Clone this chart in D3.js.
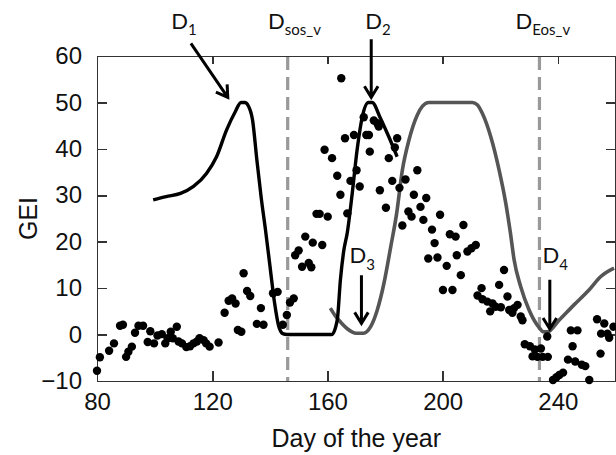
<!doctype html>
<html lang="en">
<head>
<meta charset="UTF-8">
<title>GEI - Day of the year</title>
<style>
    body { margin: 0; background: #fff; }
    .axis path, .axis line { stroke: #333; stroke-width: 1.6; shape-rendering: crispEdges; }
    .axis text { font: 24px "Liberation Sans", Arial, sans-serif; fill: #111; }
    .title { font: 25px "Liberation Sans", Arial, sans-serif; fill: #111; }
    .lab { font: 22px Lato, "Open Sans", sans-serif; fill: #111; }
</style>
</head>
<body>
<svg class="chart"></svg>
<script src="https://cdn.jsdelivr.net/npm/d3@7"></script>
<script>
// observed GEI points
var obsDay = [80, 81, 84.2, 85.9, 88, 89, 90.1, 90.9, 92.1, 93.2, 94.4, 96, 97.6, 98.5, 99.8, 101, 102.5, 103.7, 104.5, 105.6,
    106.3, 107.7, 108.3, 109.5, 111, 112.3, 113.5, 114.7, 115.6, 117, 117.9, 119.1, 122.2, 124.3, 125.7, 126.9, 128.1, 128.9, 130.1, 130.9,
    132.1, 133.2, 135.5, 136.9, 137.8, 141.1, 142.7, 144.5, 145.9, 147, 148.3, 148.8, 150, 151.2, 152.3, 153.5, 154.4, 154.9, 156.2, 157.3,
    158.2, 159, 160.1, 161.6, 163.4, 164.5, 164.8, 166.1, 166.9, 168, 169.2, 170.1, 171.2, 172.6, 173.5, 174.4, 174.7, 176.1, 177.3, 177.8,
    178.2, 180.3, 181.3, 182.5, 183.4, 184.2, 185, 186, 187.1, 188.1, 189.2, 190, 191.2, 192.3, 193.3, 194.3, 195, 196.3, 197.2, 198.2,
    199.1, 200.1, 201.4, 202.5, 203.4, 204.5, 204.9, 206.3, 207.2, 208.6, 210, 211.5, 212.1, 213.5, 213.8, 215.5, 216.5, 217.3, 218.4, 219.6,
    220.2, 221.3, 222.5, 223.1, 224.2, 224.8, 226, 227.1, 227.7, 228.5, 230.3, 231.2, 232, 232.9, 234.1, 234.7, 236.3, 236.5, 238.3, 239.5,
    240.5, 241.8, 243.5, 244.5, 245.1, 246, 246.8, 248.3, 249.5, 250.9, 253.6, 254.8, 255, 256.1, 257.2, 257.8, 259.3];
var obsGEI = [-7.8, -4.9, -3.5, -1.9, 1.9, 2.1, -4.8, -3.7, -2.6, 0.4, 1.9, 1.9, -1.6, 0.7, -1.9, -0.2, 0.1, -1.9, -0.8, 0.6,
    -0.8, 1.7, -1.5, -1.9, -2.7, -2.5, -1.9, -1.5, -0.8, -1.2, -1.9, -2.6, -1.7, 4.7, 7.3, 7.8, 6.7, 1, 0.6, 13.2,
    9.4, 8.3, 2.3, 5.7, 2.1, 8.9, 9.2, 2.1, 4.2, 6.9, 7.8, 17.1, 18.1, 14.6, 21.1, 15.4, 14.5, 19.8, 26, 26,
    19.3, 39.8, 25.4, 38, 34.2, 30.1, 55.2, 42.3, 26.1, 33.1, 43, 35.4, 31.9, 46.8, 43, 43, 39.4, 46.1, 45.5, 44.8,
    31.1, 27.3, 38, 33.1, 40.3, 42.3, 31.6, 23.5, 33.4, 26.5, 25.4, 30.1, 35.4, 27.5, 24.7, 29.4, 16.4, 22.6, 19.7, 16.6,
    25.8, 9.6, 14.8, 21.6, 9.6, 21.1, 17.1, 12.8, 23.6, 17.9, 18.6, 19.3, 8.4, 10, 7.6, 7.1, 5, 6.7, 6, 10.7,
    5.9, 13.9, 8.2, 5.3, 4.7, 5.7, 6.4, 3.9, 3.1, -2.1, -2.5, -4.7, -3.2, -4.8, -3, -4.8, -0.4, -4.8, -9.8, -9.2,
    -8.7, -8.2, -5.4, 0.9, -2.5, -5.8, 0.9, -6.5, -6.8, -9.8, 3.3, -4.1, 0.2, 2.4, 0.2, -0.7, 1.7];

// fitted curve (black)
var fitDay = [99.5, 104, 109, 113.5, 118, 121.5, 125, 128, 130, 131.3, 132.5, 134, 135.5, 137, 138.5, 140, 141.6, 143, 144.5, 146,
    161.5, 163.4, 164.5, 165.7, 166.9, 168.6, 170.3, 172.1, 174.2, 175.5, 178.4, 181.3, 184.2];
var fitGEI = [29, 29.7, 30.4, 31.9, 34.7, 38.3, 44.1, 48, 50, 50, 49.3, 46.2, 37.6, 29.5, 22.5, 15, 7, 2, 0.2, 0,
    0, 3.1, 11.8, 18.2, 22, 30.4, 39.8, 46.9, 50, 50, 46.6, 42.6, 38.3];

// fitted curve (gray)
var fit2Day = [161, 163, 165, 167, 168.5, 170, 172.5, 175, 177.3, 179.6, 182, 184, 186, 188.3, 191.2, 193, 195.2, 210.3, 212, 213.8,
    216.7, 219.6, 221.9, 223.5, 224.8, 227.1, 230, 233.5, 235, 236.4, 240.4, 245.6, 250.8, 254.9, 259.5];
var fit2GEI = [5.7, 3.8, 2.4, 1.2, 0.6, 0.3, 0.3, 1.7, 5.3, 11, 19, 26, 35.4, 41.9, 47.3, 49.2, 50, 50, 49.5, 47.6,
    42.6, 35.4, 28.3, 22, 16.1, 10.3, 5.3, 1.5, 0.6, 0.6, 3.1, 6.4, 9.6, 12.5, 14.3];

var xTicks = [80, 120, 160, 200, 240];
var yTicks = [-10, 0, 10, 20, 30, 40, 50, 60];

// vertical dashed markers
var vDays = [146.2, 233.6];

// annotations: label text, subscript, label pos, arrow from/to
var annName = ["D", "D", "D", "D", "D", "D"];
var annSub = ["1", "sos_v", "2", "Eos_v", "3", "4"];
var annDay = [105.8, 139.4, 173.1, 225.3, 167.7, 234.7];
var annGEI = [65.9, 65.9, 65.9, 65.9, 15.4, 15.4];
var arrFrom = [[112.6, 62.7], [175.2, 63.6], [171.8, 12.8], [237.2, 11.8]];
var arrTo = [[125.4, 51.1], [175.2, 51.1], [171.8, 2.4], [237.2, 1.2]];

var totalWidth = 616, totalHeight = 455;

var x = d3.scaleLinear().domain([80, 260]).range([97, 615.5]);
var y = d3.scaleLinear().domain([-10, 60]).range([381, 56]);

var svg = d3.select(".chart")
    .attr("width", totalWidth)
    .attr("height", totalHeight);

// frame / axes
svg.append("g").attr("class", "axis")
    .attr("transform", "translate(0," + y(-10) + ")")
    .call(d3.axisBottom(x).tickValues(xTicks).tickSizeInner(-10).tickSizeOuter(0).tickPadding(12))
    .selectAll("text").attr("fill", "#111");
svg.append("g").attr("class", "axis")
    .attr("transform", "translate(0," + y(60) + ")")
    .call(d3.axisTop(x).tickValues(xTicks.slice(1)).tickSizeInner(-8).tickSizeOuter(0).tickFormat(""));
svg.append("g").attr("class", "axis")
    .attr("transform", "translate(" + x(80) + ",0)")
    .call(d3.axisLeft(y).tickValues(yTicks).tickSizeInner(-10).tickSizeOuter(0).tickPadding(15));
svg.append("g").attr("class", "axis")
    .attr("transform", "translate(" + x(260) + ",0)")
    .call(d3.axisRight(y).tickValues(yTicks).tickSizeInner(-10).tickSizeOuter(0).tickFormat(""));

svg.selectAll(".axis text").attr("fill", "#111");

// axis titles
svg.append("text").attr("class", "title")
    .attr("x", (x(80) + x(260)) / 2).attr("y", 447)
    .attr("text-anchor", "middle")
    .text("Day of the year");
svg.append("text").attr("class", "title")
    .attr("transform", "translate(37," + y(25) + ") rotate(-90)")
    .attr("text-anchor", "middle")
    .text("GEI");

// dashed verticals
svg.selectAll(".vline").data(vDays).enter()
    .append("line").attr("class", "vline")
    .attr("x1", function(d) { return x(d); }).attr("x2", function(d) { return x(d); })
    .attr("y1", y(60) + 1).attr("y2", y(-10))
    .attr("stroke", "#999").attr("stroke-width", 3.2)
    .attr("stroke-dasharray", "13,7");

var line = d3.line()
    .x(function(d) { return x(d[0]); })
    .y(function(d) { return y(d[1]); })
    .curve(d3.curveMonotoneX);

svg.append("path")
    .datum(d3.zip(fit2Day, fit2GEI))
    .attr("d", line)
    .attr("fill", "none").attr("stroke", "#555").attr("stroke-width", 3.6);

svg.append("path")
    .datum(d3.zip(fitDay, fitGEI))
    .attr("d", line)
    .attr("fill", "none").attr("stroke", "#000").attr("stroke-width", 3.4);

// points
svg.selectAll(".dot").data(d3.zip(obsDay, obsGEI)).enter()
    .append("circle").attr("class", "dot")
    .attr("cx", function(d) { return x(d[0]); })
    .attr("cy", function(d) { return y(d[1]); })
    .attr("r", 4.2)
    .attr("fill", "#000");

// arrows
var arrows = d3.zip(arrFrom, arrTo);
svg.selectAll(".arr").data(arrows).enter()
    .append("path").attr("class", "arr")
    .attr("fill", "none").attr("stroke", "#000").attr("stroke-width", 3)
    .attr("stroke-linejoin", "miter")
    .attr("d", function(d) {
        var x0 = x(d[0][0]), y0 = y(d[0][1]), x1 = x(d[1][0]), y1 = y(d[1][1]);
        var a = Math.atan2(y1 - y0, x1 - x0), len = 13, spread = 0.55;
        var ax = x1 - len * Math.cos(a - spread), ay = y1 - len * Math.sin(a - spread);
        var bx = x1 - len * Math.cos(a + spread), by = y1 - len * Math.sin(a + spread);
        return "M" + x0 + "," + y0 + "L" + x1 + "," + y1 +
            "M" + ax + "," + ay + "L" + x1 + "," + y1 + "L" + bx + "," + by;
    });

// labels
var labs = svg.selectAll(".lab").data(d3.range(annName.length)).enter()
    .append("text").attr("class", "lab")
    .attr("x", function(i) { return x(annDay[i]); })
    .attr("y", function(i) { return y(annGEI[i]); });
labs.append("tspan").text(function(i) { return annName[i]; });
labs.append("tspan")
    .attr("dy", 6.5)
    .attr("font-size", 15)
    .text(function(i) { return annSub[i]; });
</script>
</body>
</html>
